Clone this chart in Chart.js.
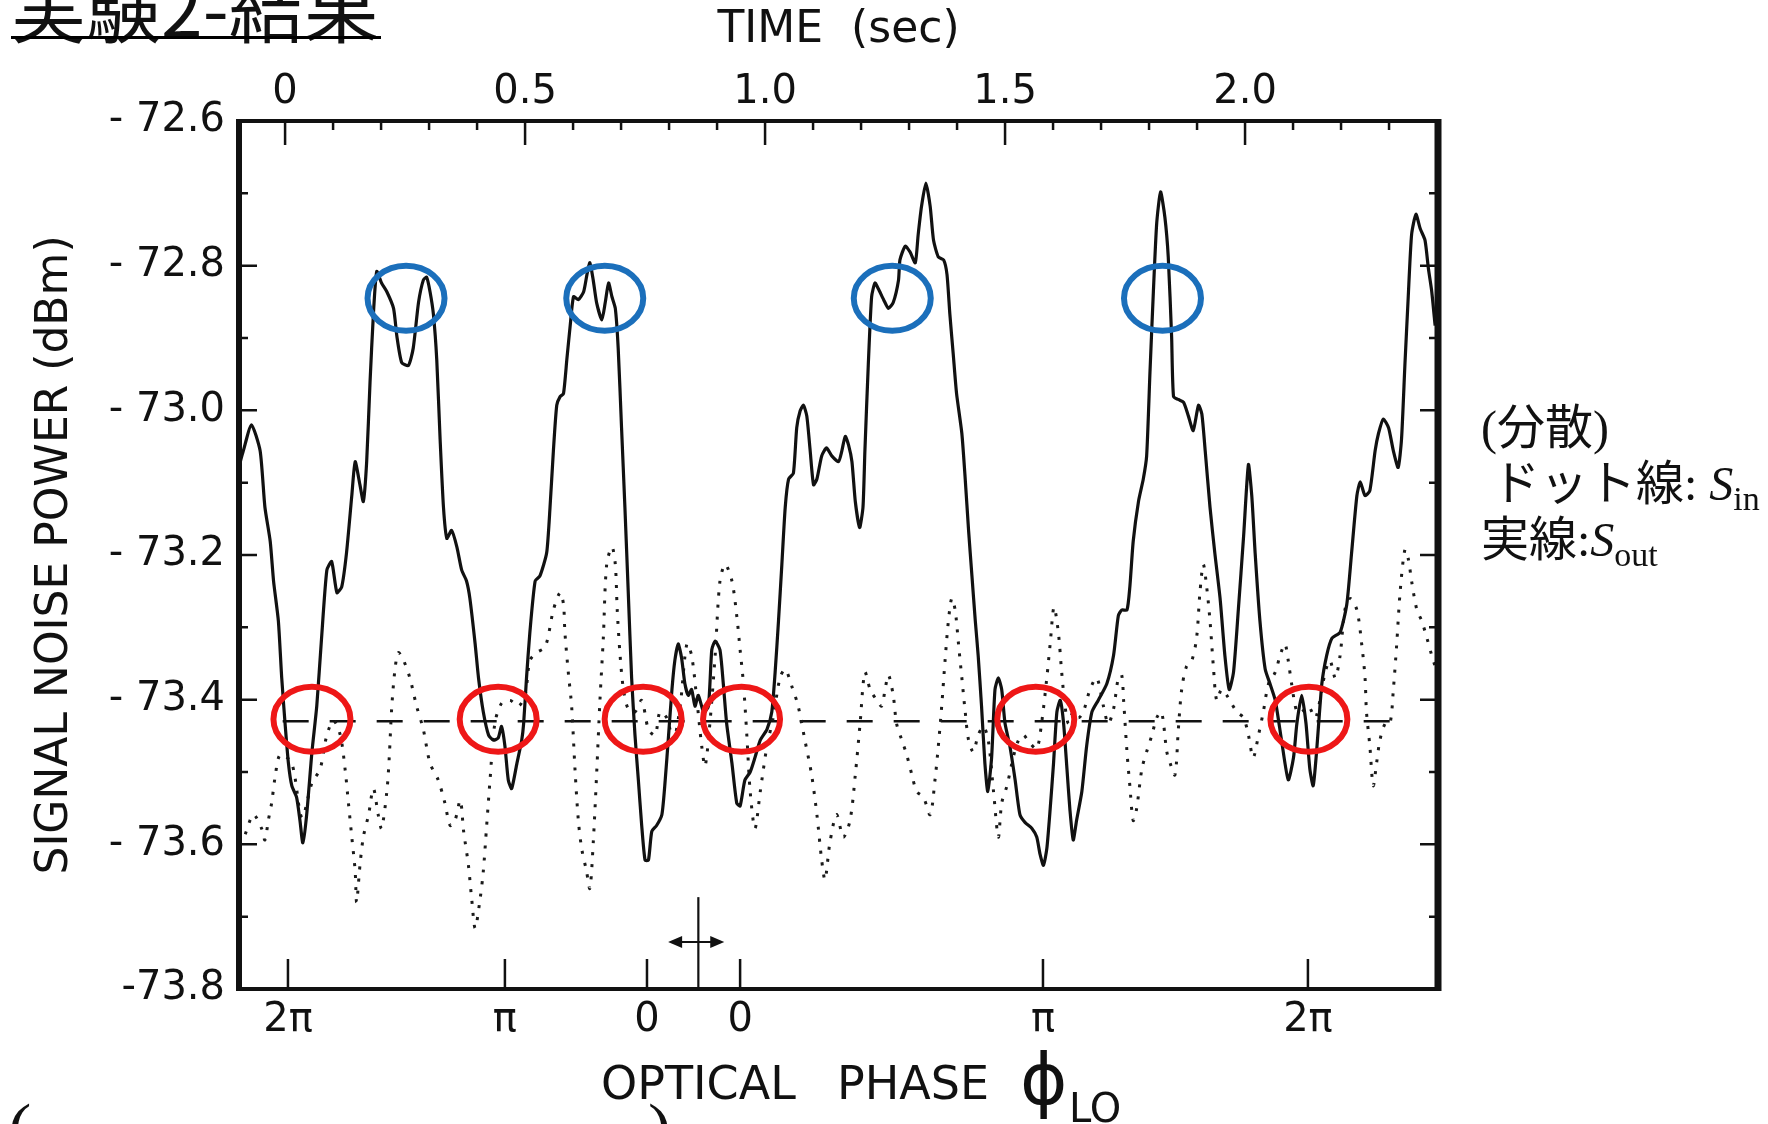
<!DOCTYPE html>
<html><head><meta charset="utf-8">
<script src="https://cdn.jsdelivr.net/npm/chart.js@4.4.1/dist/chart.umd.min.js"></script>
<style>
html,body{margin:0;padding:0;background:#fff;width:1768px;height:1124px;overflow:hidden;position:relative;}
#c{position:absolute;left:0;top:0;width:1768px;height:1124px;}
.t{position:absolute;white-space:nowrap;color:#111;}
.note{font-family:'Liberation Serif','Noto Sans CJK JP';font-size:48px;line-height:48px;}
.sub{font-size:34px;position:relative;top:10px;}
.ax{font-family:'DejaVu Sans';font-size:46px;line-height:46px;}
</style></head><body>
<canvas id="c" width="1768" height="1124"></canvas>
<div class="t" style="left:11px;top:-33px;font-family:'Noto Sans CJK JP';font-size:75px;line-height:75px;">実験2-結果</div>
<div style="position:absolute;left:11px;top:36px;width:370px;height:3px;background:#000"></div>
<div class="t note" style="left:1481px;top:404px;">(分散)</div>
<div class="t note" style="left:1492px;top:460px;">ドット線: <i>S</i><span class="sub">in</span></div>
<div class="t note" style="left:1481px;top:516px;">実線:<i>S</i><span class="sub">out</span></div>
<div class="t ax" style="left:601px;top:1060px;">OPTICAL</div>
<div class="t ax" style="left:837px;top:1060px;">PHASE</div>
<div class="t" style="left:1020px;top:1043px;font-family:'DejaVu Sans';font-size:72px;line-height:72px;">ϕ</div>
<div class="t" style="left:1069px;top:1088px;font-family:'DejaVu Sans';font-size:40px;line-height:40px;">LO</div>
<div class="t" style="left:8px;top:1094px;font-family:'Liberation Serif';font-size:70px;line-height:70px;">(</div>
<div class="t" style="left:648px;top:1094px;font-family:'Liberation Serif';font-size:70px;line-height:70px;">)</div>
<script>
// ---- axis ranges & ticks ----
const X_MIN = -0.096, X_MAX = 2.402, Y_MIN = -73.8, Y_MAX = -72.6;
const timeTicks = [0, 0.5, 1.0, 1.5, 2.0];
const timeLabels = ['0', '0.5', '1.0', '1.5', '2.0'];
const timeMinor = [0.1,0.2,0.3,0.4,0.6,0.7,0.8,0.9,1.1,1.2,1.3,1.4,1.6,1.7,1.8,1.9,2.1,2.2,2.3];
const phaseTicks = [0.006, 0.458, 0.754, 0.948, 1.579, 2.131];
const phaseLabels = ['2π', 'π', '0', '0', 'π', '2π'];
const powerTicks = [-72.6, -72.8, -73.0, -73.2, -73.4, -73.6, -73.8];
const powerLabels = ['- 72.6', '- 72.8', '- 73.0', '- 73.2', '- 73.4', '- 73.6', '-73.8'];
const powerMinor = [-72.7, -72.9, -73.1, -73.3, -73.5, -73.7];

// ---- solid line: S_out ----
const outT = [-0.095,-0.087,-0.070,-0.052,-0.042,-0.031,-0.024,-0.014,-0.007,0.000,0.007,0.014,0.024,0.031,0.037,0.045,0.056,0.066,0.076,0.087,0.097,0.108,0.118,0.128,0.139,0.146,0.156,0.163,0.170,0.177,0.184,0.191,0.201,0.212,0.226,0.233,0.243,0.257,0.267,0.278,0.288,0.295,0.302,0.309,0.316,0.323,0.330,0.337,0.347,0.358,0.368,0.378,0.385,0.396,0.403,0.413,0.424,0.434,0.444,0.451,0.458,0.465,0.472,0.483,0.493,0.497,0.503,0.510,0.521,0.531,0.545,0.552,0.559,0.566,0.573,0.580,0.587,0.594,0.601,0.611,0.622,0.629,0.635,0.642,0.649,0.660,0.667,0.674,0.681,0.688,0.694,0.701,0.708,0.715,0.722,0.729,0.736,0.743,0.750,0.757,0.764,0.774,0.785,0.792,0.799,0.806,0.812,0.819,0.826,0.833,0.840,0.847,0.854,0.861,0.872,0.882,0.889,0.896,0.906,0.913,0.920,0.931,0.941,0.948,0.958,0.969,0.979,0.990,1.004,1.014,1.021,1.028,1.035,1.042,1.049,1.059,1.066,1.073,1.080,1.087,1.094,1.101,1.108,1.118,1.128,1.139,1.153,1.160,1.167,1.174,1.181,1.188,1.197,1.204,1.208,1.215,1.222,1.229,1.236,1.247,1.257,1.267,1.278,1.281,1.292,1.302,1.313,1.319,1.326,1.335,1.344,1.351,1.361,1.372,1.379,1.385,1.392,1.399,1.410,1.417,1.424,1.431,1.438,1.444,1.451,1.458,1.464,1.472,1.479,1.486,1.493,1.500,1.510,1.521,1.531,1.542,1.556,1.566,1.573,1.580,1.587,1.594,1.601,1.608,1.615,1.622,1.629,1.635,1.642,1.649,1.660,1.670,1.681,1.694,1.712,1.726,1.736,1.743,1.754,1.760,1.767,1.778,1.788,1.795,1.802,1.809,1.816,1.824,1.833,1.840,1.847,1.851,1.861,1.872,1.882,1.892,1.903,1.910,1.917,1.927,1.937,1.948,1.958,1.967,1.976,1.986,1.997,2.007,2.014,2.021,2.031,2.042,2.052,2.063,2.076,2.090,2.101,2.108,2.118,2.127,2.135,2.142,2.149,2.160,2.170,2.181,2.198,2.212,2.222,2.233,2.240,2.250,2.260,2.271,2.278,2.288,2.299,2.309,2.319,2.326,2.333,2.340,2.347,2.356,2.365,2.375,2.382,2.389,2.396];
const outP = [-73.075,-73.056,-73.020,-73.056,-73.134,-73.181,-73.236,-73.291,-73.370,-73.433,-73.488,-73.519,-73.535,-73.567,-73.598,-73.559,-73.472,-73.409,-73.315,-73.221,-73.209,-73.252,-73.244,-73.197,-73.118,-73.071,-73.103,-73.126,-73.071,-72.961,-72.867,-72.808,-72.824,-72.836,-72.859,-72.898,-72.934,-72.938,-72.914,-72.851,-72.820,-72.816,-72.836,-72.867,-72.930,-73.040,-73.134,-73.177,-73.166,-73.189,-73.221,-73.236,-73.260,-73.323,-73.370,-73.417,-73.449,-73.456,-73.453,-73.437,-73.464,-73.511,-73.523,-73.488,-73.456,-73.433,-73.370,-73.307,-73.236,-73.229,-73.197,-73.134,-73.056,-72.993,-72.981,-72.977,-72.930,-72.883,-72.843,-72.847,-72.836,-72.812,-72.796,-72.820,-72.851,-72.875,-72.851,-72.824,-72.843,-72.859,-72.914,-73.024,-73.134,-73.252,-73.370,-73.449,-73.511,-73.574,-73.622,-73.622,-73.582,-73.574,-73.559,-73.511,-73.449,-73.386,-73.346,-73.323,-73.342,-73.378,-73.394,-73.386,-73.409,-73.394,-73.417,-73.409,-73.331,-73.319,-73.331,-73.378,-73.433,-73.488,-73.543,-73.547,-73.511,-73.500,-73.480,-73.456,-73.441,-73.417,-73.362,-73.291,-73.213,-73.134,-73.095,-73.087,-73.024,-73.001,-72.993,-73.008,-73.056,-73.103,-73.095,-73.063,-73.052,-73.063,-73.071,-73.056,-73.036,-73.048,-73.071,-73.126,-73.162,-73.134,-73.056,-72.938,-72.843,-72.824,-72.832,-72.847,-72.859,-72.851,-72.820,-72.792,-72.773,-72.781,-72.796,-72.757,-72.718,-72.686,-72.718,-72.765,-72.788,-72.792,-72.812,-72.867,-72.922,-72.977,-73.032,-73.095,-73.166,-73.229,-73.291,-73.339,-73.409,-73.488,-73.527,-73.480,-73.386,-73.370,-73.386,-73.433,-73.464,-73.511,-73.559,-73.570,-73.578,-73.590,-73.614,-73.629,-73.606,-73.551,-73.488,-73.417,-73.401,-73.433,-73.496,-73.551,-73.594,-73.567,-73.527,-73.464,-73.417,-73.401,-73.378,-73.339,-73.284,-73.276,-73.276,-73.244,-73.181,-73.126,-73.095,-73.063,-72.946,-72.836,-72.741,-72.698,-72.733,-72.788,-72.898,-72.981,-72.985,-72.989,-73.008,-73.028,-72.993,-73.005,-73.056,-73.134,-73.197,-73.260,-73.339,-73.386,-73.362,-73.276,-73.174,-73.075,-73.118,-73.197,-73.291,-73.358,-73.378,-73.401,-73.456,-73.511,-73.480,-73.433,-73.394,-73.433,-73.496,-73.519,-73.472,-73.378,-73.339,-73.315,-73.307,-73.268,-73.197,-73.118,-73.099,-73.118,-73.111,-73.056,-73.032,-73.012,-73.024,-73.056,-73.079,-73.040,-72.938,-72.843,-72.757,-72.729,-72.749,-72.765,-72.804,-72.836,-72.883];

// ---- dotted line: S_in ----
const inT = [-0.083,-0.066,-0.049,-0.042,-0.035,-0.028,-0.021,-0.010,0.014,0.035,0.056,0.073,0.087,0.101,0.115,0.125,0.132,0.139,0.146,0.149,0.156,0.163,0.174,0.184,0.194,0.201,0.212,0.217,0.222,0.229,0.236,0.247,0.260,0.274,0.288,0.302,0.319,0.333,0.344,0.354,0.365,0.372,0.382,0.389,0.396,0.406,0.413,0.420,0.427,0.437,0.451,0.469,0.486,0.500,0.510,0.524,0.542,0.559,0.573,0.580,0.583,0.590,0.597,0.604,0.611,0.618,0.628,0.635,0.642,0.649,0.656,0.663,0.670,0.681,0.688,0.692,0.698,0.705,0.715,0.729,0.743,0.757,0.771,0.781,0.795,0.809,0.823,0.837,0.847,0.858,0.868,0.875,0.885,0.896,0.906,0.917,0.931,0.941,0.948,0.955,0.962,0.969,0.979,0.990,1.004,1.017,1.031,1.042,1.056,1.069,1.083,1.097,1.108,1.118,1.125,1.135,1.149,1.163,1.177,1.188,1.198,1.208,1.219,1.233,1.243,1.250,1.257,1.267,1.274,1.285,1.295,1.306,1.316,1.330,1.344,1.354,1.361,1.368,1.375,1.382,1.389,1.396,1.403,1.410,1.417,1.424,1.434,1.444,1.455,1.465,1.476,1.486,1.493,1.504,1.517,1.528,1.538,1.552,1.566,1.576,1.587,1.594,1.602,1.611,1.618,1.625,1.632,1.642,1.653,1.663,1.677,1.691,1.705,1.715,1.726,1.736,1.743,1.747,1.754,1.760,1.767,1.774,1.785,1.795,1.806,1.816,1.826,1.837,1.844,1.854,1.861,1.868,1.878,1.889,1.899,1.906,1.913,1.920,1.927,1.934,1.941,1.951,1.962,1.983,1.997,2.007,2.017,2.028,2.038,2.049,2.063,2.073,2.083,2.090,2.097,2.108,2.118,2.132,2.146,2.156,2.167,2.177,2.188,2.198,2.208,2.219,2.233,2.243,2.250,2.253,2.260,2.267,2.274,2.281,2.292,2.302,2.309,2.316,2.323,2.333,2.340,2.347,2.358,2.368,2.379,2.389,2.396];
const inP = [-73.586,-73.559,-73.578,-73.594,-73.567,-73.543,-73.508,-73.476,-73.488,-73.563,-73.515,-73.496,-73.449,-73.429,-73.449,-73.496,-73.543,-73.590,-73.637,-73.680,-73.629,-73.590,-73.559,-73.523,-73.559,-73.578,-73.527,-73.480,-73.413,-73.358,-73.335,-73.346,-73.370,-73.409,-73.441,-73.488,-73.511,-73.543,-73.574,-73.567,-73.539,-73.582,-73.629,-73.677,-73.716,-73.677,-73.637,-73.574,-73.511,-73.433,-73.405,-73.401,-73.409,-73.394,-73.346,-73.335,-73.327,-73.276,-73.252,-73.268,-73.307,-73.362,-73.409,-73.496,-73.567,-73.606,-73.637,-73.661,-73.598,-73.504,-73.401,-73.315,-73.213,-73.189,-73.213,-73.276,-73.339,-73.386,-73.413,-73.417,-73.401,-73.441,-73.449,-73.417,-73.425,-73.456,-73.409,-73.323,-73.339,-73.401,-73.464,-73.492,-73.433,-73.339,-73.236,-73.213,-73.236,-73.284,-73.331,-73.378,-73.449,-73.527,-73.578,-73.527,-73.464,-73.425,-73.370,-73.358,-73.382,-73.409,-73.456,-73.504,-73.559,-73.622,-73.649,-73.598,-73.559,-73.590,-73.567,-73.504,-73.433,-73.362,-73.386,-73.401,-73.409,-73.386,-73.366,-73.394,-73.433,-73.456,-73.476,-73.504,-73.527,-73.535,-73.559,-73.511,-73.464,-73.409,-73.346,-73.291,-73.260,-73.276,-73.323,-73.370,-73.417,-73.456,-73.472,-73.449,-73.437,-73.456,-73.527,-73.590,-73.543,-73.519,-73.480,-73.456,-73.449,-73.460,-73.468,-73.433,-73.370,-73.323,-73.272,-73.307,-73.362,-73.409,-73.433,-73.417,-73.425,-73.417,-73.386,-73.370,-73.409,-73.433,-73.413,-73.370,-73.366,-73.401,-73.472,-73.519,-73.567,-73.551,-73.496,-73.472,-73.449,-73.425,-73.417,-73.472,-73.488,-73.504,-73.441,-73.386,-73.354,-73.346,-73.315,-73.252,-73.213,-73.244,-73.291,-73.354,-73.401,-73.386,-73.394,-73.417,-73.425,-73.449,-73.480,-73.449,-73.417,-73.378,-73.362,-73.339,-73.323,-73.346,-73.378,-73.417,-73.417,-73.409,-73.425,-73.401,-73.362,-73.346,-73.370,-73.339,-73.276,-73.260,-73.276,-73.323,-73.370,-73.417,-73.464,-73.519,-73.488,-73.456,-73.433,-73.433,-73.386,-73.323,-73.252,-73.193,-73.205,-73.236,-73.276,-73.291,-73.315,-73.339,-73.354];

// ---- dashed reference level ----
const refT = [-0.005, 2.31];
const refP = [-73.43, -73.43];

// ---- annotation ellipses (centres in data units) ----
const blueT = [0.252, 0.666, 1.265, 1.828];
const blueP = [-72.845, -72.845, -72.845, -72.845];
const redT = [0.056, 0.444, 0.746, 0.951, 1.564, 2.133];
const redP = [-73.427, -73.427, -73.427, -73.427, -73.427, -73.427];

// ---- marker near bottom (vertical line + double arrow) ----
const markerT = 0.861, markerTopP = -73.673;
const arrowT = [0.798, 0.915], arrowP = -73.735;

const pts = (xs, ys) => xs.map((x, i) => ({x, y: ys[i]}));
const INK = '#111';

const framePlugin = {
  id: 'frameTicks',
  afterDatasetsDraw(chart) {
    const {ctx, chartArea: a, scales} = chart;
    const sx = scales.x, sy = scales.y;
    ctx.save();
    ctx.strokeStyle = INK; ctx.fillStyle = INK; ctx.lineCap = 'butt';
    ctx.lineWidth = 2.5;
    ctx.beginPath();
    powerTicks.forEach(v => { const p = sy.getPixelForValue(v);
      ctx.moveTo(a.left, p); ctx.lineTo(a.left + 18, p); ctx.moveTo(a.right, p); ctx.lineTo(a.right - 18, p); });
    powerMinor.forEach(v => { const p = sy.getPixelForValue(v);
      ctx.moveTo(a.left, p); ctx.lineTo(a.left + 9, p); ctx.moveTo(a.right, p); ctx.lineTo(a.right - 9, p); });
    timeTicks.forEach(v => { const p = sx.getPixelForValue(v); ctx.moveTo(p, a.top); ctx.lineTo(p, a.top + 24); });
    timeMinor.forEach(v => { const p = sx.getPixelForValue(v); ctx.moveTo(p, a.top); ctx.lineTo(p, a.top + 9); });
    phaseTicks.forEach(v => { const p = sx.getPixelForValue(v); ctx.moveTo(p, a.bottom); ctx.lineTo(p, a.bottom - 30); });
    ctx.stroke();
    const mx = sx.getPixelForValue(markerT);
    ctx.lineWidth = 2.2;
    ctx.beginPath(); ctx.moveTo(mx, sy.getPixelForValue(markerTopP)); ctx.lineTo(mx, a.bottom); ctx.stroke();
    const ay = sy.getPixelForValue(arrowP), ax0 = sx.getPixelForValue(arrowT[0]), ax1 = sx.getPixelForValue(arrowT[1]);
    ctx.beginPath(); ctx.moveTo(ax0 + 8, ay); ctx.lineTo(ax1 - 8, ay); ctx.stroke();
    ctx.beginPath(); ctx.moveTo(ax0, ay); ctx.lineTo(ax0 + 14, ay - 6); ctx.lineTo(ax0 + 14, ay + 6); ctx.closePath(); ctx.fill();
    ctx.beginPath(); ctx.moveTo(ax1, ay); ctx.lineTo(ax1 - 14, ay - 6); ctx.lineTo(ax1 - 14, ay + 6); ctx.closePath(); ctx.fill();
    ctx.lineWidth = 4;
    ctx.beginPath(); ctx.moveTo(a.left - 3, a.top); ctx.lineTo(a.right + 3, a.top); ctx.stroke();
    ctx.beginPath(); ctx.moveTo(a.left - 3, a.bottom); ctx.lineTo(a.right + 3, a.bottom); ctx.stroke();
    ctx.lineWidth = 6;
    ctx.beginPath(); ctx.moveTo(a.left, a.top - 2); ctx.lineTo(a.left, a.bottom + 2); ctx.stroke();
    ctx.lineWidth = 7;
    ctx.beginPath(); ctx.moveTo(a.right, a.top - 2); ctx.lineTo(a.right, a.bottom + 2); ctx.stroke();
    ctx.lineWidth = 6;
    const ell = (ts, ps, col) => { ctx.strokeStyle = col; ts.forEach((t, i) => {
      ctx.beginPath(); ctx.ellipse(sx.getPixelForValue(t), sy.getPixelForValue(ps[i]), 38.5, 32.5, 0, 0, Math.PI * 2); ctx.stroke(); }); };
    ell(blueT, blueP, '#1b6fbb');
    ell(redT, redP, '#ee1717');
    ctx.restore();
  }
};

const tickFont = {family: 'DejaVu Sans', size: 40};
new Chart(document.getElementById('c'), {
  type: 'line',
  data: {
    datasets: [
      {label: 'Sout', data: pts(outT, outP), borderColor: INK, borderWidth: 3.2, pointRadius: 0, tension: 0.2, xAxisID: 'x', yAxisID: 'y'},
      {label: 'Sin', data: pts(inT, inP), borderColor: '#1a1a1a', borderWidth: 3, borderDash: [3, 9], pointRadius: 0, tension: 0.3, xAxisID: 'x', yAxisID: 'y'},
      {label: 'ref', data: pts(refT, refP), borderColor: INK, borderWidth: 2.5, borderDash: [26, 21], pointRadius: 0, xAxisID: 'x', yAxisID: 'y'}
    ]
  },
  options: {
    responsive: false, animation: false, devicePixelRatio: 1,
    layout: {padding: {left: 0, top: 0, right: 330, bottom: 0}},
    plugins: {legend: {display: false}, tooltip: {enabled: false}},
    scales: {
      x: {
        type: 'linear', position: 'top', min: X_MIN, max: X_MAX,
        grid: {display: false, drawTicks: false}, border: {display: false},
        afterBuildTicks: s => { s.ticks = timeTicks.map(v => ({value: v})); },
        ticks: {autoSkip: false, maxRotation: 0, padding: 4, color: INK, font: tickFont, callback: (v, i) => timeLabels[i]},
        title: {display: true, text: 'TIME  (sec)', color: INK, font: {family: 'DejaVu Sans', size: 44}, padding: {top: 4, bottom: 0}},
        afterFit: s => { s.height = 121; }
      },
      x2: {
        type: 'linear', position: 'bottom', min: X_MIN, max: X_MAX,
        grid: {display: false, drawTicks: false}, border: {display: false},
        afterBuildTicks: s => { s.ticks = phaseTicks.map(v => ({value: v})); },
        ticks: {autoSkip: false, maxRotation: 0, padding: 8, color: INK, font: tickFont, callback: (v, i) => phaseLabels[i]},
        afterFit: s => { s.height = 135; }
      },
      y: {
        type: 'linear', position: 'left', min: Y_MIN, max: Y_MAX,
        grid: {display: false, drawTicks: false}, border: {display: false},
        afterBuildTicks: s => { s.ticks = powerTicks.map(v => ({value: v})); },
        ticks: {autoSkip: false, padding: 14, color: INK, font: tickFont, callback: (v, i) => powerLabels[i]},
        title: {display: true, text: 'SIGNAL NOISE POWER (dBm)', color: INK, font: {family: 'DejaVu Sans', size: 44}, padding: {top: 29, bottom: 0}},
        afterFit: s => { s.width = 239; }
      }
    }
  },
  plugins: [framePlugin]
});
</script>
</body></html>
